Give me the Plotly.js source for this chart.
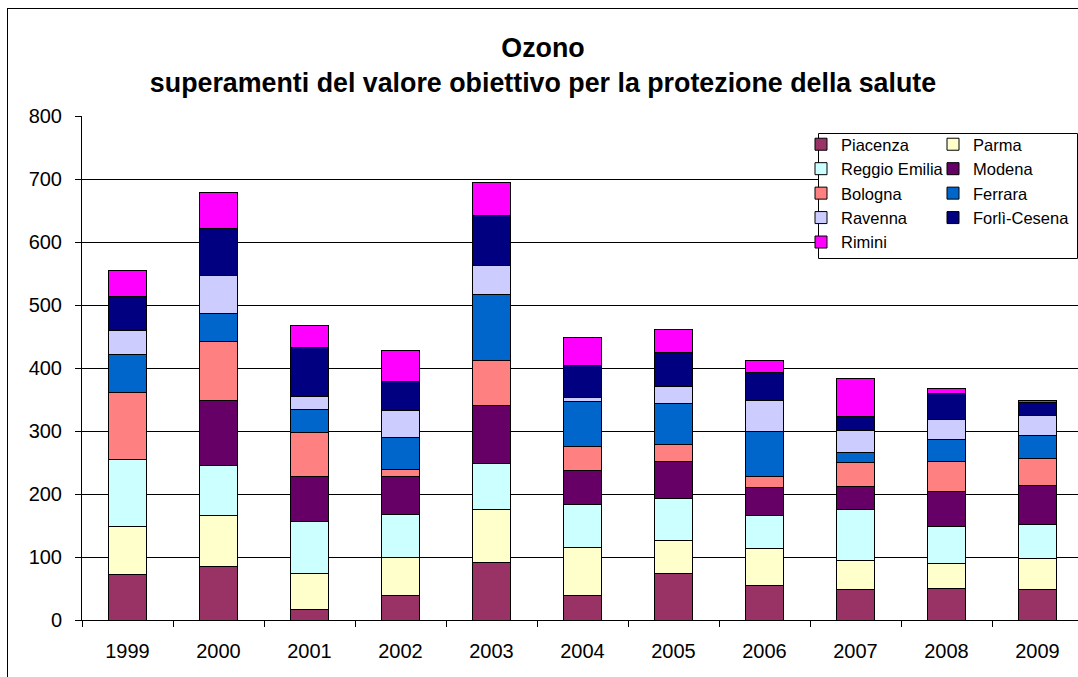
<!DOCTYPE html>
<html>
<head>
<meta charset="utf-8">
<script src="https://cdn.plot.ly/plotly-3.0.1.min.js"></script>
<style>
html,body{margin:0;padding:0;background:#fff;}
#frame{position:absolute;left:7px;top:8px;width:1200px;height:800px;border:1px solid #000;box-sizing:border-box;}
#chart{position:absolute;left:0;top:0;width:1078px;height:677px;}
</style>
</head>
<body>
<div id="frame"></div>
<div id="chart"></div>
<script>
const years = ['1999','2000','2001','2002','2003','2004','2005','2006','2007','2008','2009'];
const piacenza    = [72, 85, 17, 39, 92, 39, 74, 54, 49, 50, 48];
const parma       = [77, 81, 57, 61, 83, 76, 52, 59, 46, 39, 49];
const reggio      = [106, 79, 83, 68, 73, 69, 67, 53, 81, 60, 54];
const modena      = [0, 104, 71, 60, 92, 53, 59, 44, 36, 55, 63];
const bologna     = [106, 93, 69, 11, 72, 39, 26, 17, 38, 48, 43];
const ferrara     = [60, 45, 37, 50, 104, 71, 65, 73, 16, 34, 36];
const ravenna     = [38, 60, 20, 44, 46, 6, 27, 48, 35, 32, 31];
const forli       = [55, 75, 78, 45, 80, 51, 54, 45, 22, 42, 22];
const rimini      = [41, 57, 35, 50, 53, 44, 37, 19, 60, 7, 2];

const seriesNames  = ['Piacenza','Parma','Reggio Emilia','Modena','Bologna','Ferrara','Ravenna','Forlì-Cesena','Rimini'];
const seriesValues = [piacenza, parma, reggio, modena, bologna, ferrara, ravenna, forli, rimini];
const seriesColors = ['#993366','#FFFFCC','#CCFFFF','#660066','#FF8080','#0066CC','#CCCCFF','#000080','#FF00FF'];
// legend column of each series (row-wise two-column legend as in the reference)
const seriesLegend = ['legend','legend2','legend','legend2','legend','legend2','legend','legend2','legend'];

const FONT = 'Liberation Sans, Arial, sans-serif';

const traces = seriesNames.map((n, i) => ({
  type: 'bar',
  name: n,
  x: years,
  y: seriesValues[i],
  legend: seriesLegend[i],
  marker: {color: seriesColors[i], line: {color: '#000', width: 1}},
  hoverinfo: 'x+y+name'
}));

const px2x = p => (p - 82) / 996;
const px2y = p => (620 - p) / 504;

const legendCommon = {
  orientation: 'v',
  traceorder: 'normal',
  xanchor: 'left',
  yanchor: 'top',
  bgcolor: 'rgba(0,0,0,0)',
  borderwidth: 0,
  font: {family: FONT, size: 16.5, color: '#000'},
  itemwidth: 30,
  tracegroupgap: 0
};

const layout = {
  width: 1078,
  height: 677,
  margin: {l: 82, r: 0, t: 116, b: 57},
  paper_bgcolor: 'rgba(0,0,0,0)',
  plot_bgcolor: 'rgba(0,0,0,0)',
  font: {family: FONT, color: '#000', size: 20},
  barmode: 'stack',
  bargap: 0.58,
  title: {
    text: '<b>Ozono</b><br><b>superamenti del valore obiettivo per la protezione della salute</b>',
    font: {family: FONT, size: 26.8, color: '#000'},
    xref: 'container', x: 543/1078, xanchor: 'center',
    yref: 'container', y: 1 - 57/677, yanchor: 'middle'
  },
  xaxis: {
    type: 'category',
    range: [-0.5, 10.445],
    tickson: 'boundaries',
    ticks: 'outside', ticklen: 6, tickcolor: '#000', tickwidth: 1,
    showline: true, linecolor: '#000', linewidth: 1,
    showgrid: false,
    tickfont: {family: FONT, size: 20, color: '#000'},
    ticklabelstandoff: 13,
    fixedrange: true
  },
  yaxis: {
    range: [0, 800],
    dtick: 100,
    ticks: 'outside', ticklen: 6, tickcolor: '#000', tickwidth: 1,
    showline: true, linecolor: '#000', linewidth: 1,
    showgrid: true, gridcolor: '#000', gridwidth: 1,
    zeroline: false,
    tickfont: {family: FONT, size: 20, color: '#000'},
    ticklabelstandoff: 9,
    fixedrange: true
  },
  showlegend: true,
  legend: Object.assign({}, legendCommon, {x: px2x(801), y: px2y(127)}),
  legend2: Object.assign({}, legendCommon, {x: px2x(933), y: px2y(127)}),
  shapes: [{
    type: 'rect', xref: 'paper', yref: 'paper',
    x0: px2x(818.5), x1: px2x(1077.5), y0: px2y(258.5), y1: px2y(133.5),
    fillcolor: '#fff', line: {color: '#000', width: 1}, layer: 'above'
  }]
};

Plotly.newPlot('chart', traces, layout, {displayModeBar: false, staticPlot: true});
</script>
</body>
</html>
